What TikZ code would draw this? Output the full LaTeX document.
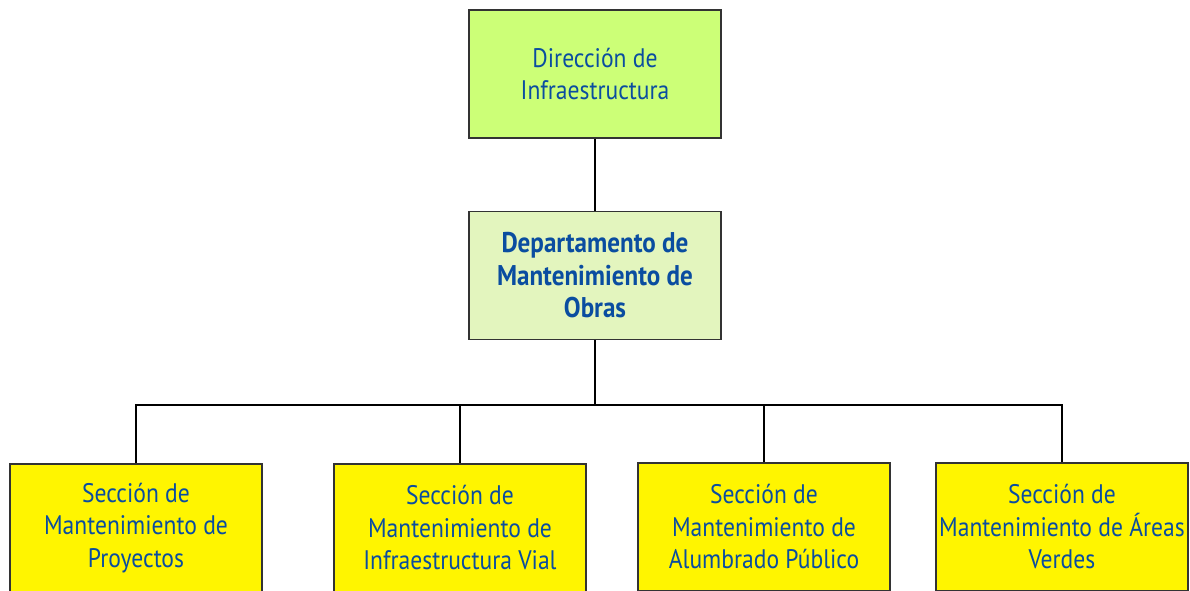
\documentclass[tikz,border=0pt]{standalone}
\usepackage{fontspec}
\setmainfont{PT Sans}[FakeStretch=0.88]
\definecolor{txtblue}{HTML}{0A4DA0}
\definecolor{topfill}{HTML}{CCFF77}
\definecolor{midfill}{HTML}{E3F5BE}
\definecolor{secfill}{HTML}{FFF500}
\definecolor{edge}{HTML}{333333}
\tikzset{
  orgbox/.style={draw=edge, line width=1.6pt, minimum width=252pt, minimum height=128pt,
    align=center, text=txtblue, font=\fontsize{26.8}{32.5}\selectfont, inner sep=0pt},
  link/.style={draw=black, line width=1.6pt}
}
\begin{document}
\begin{tikzpicture}[x=1pt,y=1pt]
\useasboundingbox (0,0) rectangle (1190,590);
\node[orgbox, fill=topfill] (dir) at (595,516) {Dirección de\\Infraestructura};
\node[orgbox, fill=midfill, font=\bfseries\fontsize{28.5}{32.5}\selectfont] (dep) at (595,314.5) {Departamento de\\Mantenimiento de\\Obras};
\node[orgbox, fill=secfill] (s1) at (136,62) {Sección de\\Mantenimiento de\\Proyectos};
\node[orgbox, fill=secfill] (s2) at (460,62) {Sección de\\Mantenimiento de\\Infraestructura Vial};
\node[orgbox, fill=secfill] (s3) at (764,63) {Sección de\\Mantenimiento de\\Alumbrado Público};
\node[orgbox, fill=secfill] (s4) at (1062,63) {Sección de\\Mantenimiento de Áreas\\Verdes};
\coordinate (bus) at (595,185);
\draw[link] (dir.south) -- (dep.north);
\draw[link] (dep.south) -- (bus);
\draw[link] (s1.north) |- (bus);
\draw[link] (s4.north) |- (bus);
\draw[link] (s2.north) -- (s2.north |- bus);
\draw[link] (s3.north) -- (s3.north |- bus);
\end{tikzpicture}
\end{document}
